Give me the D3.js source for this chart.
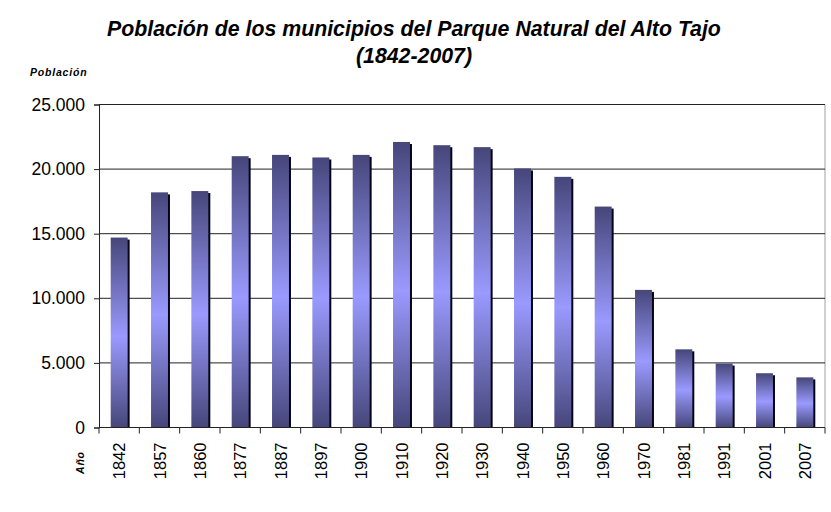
<!DOCTYPE html>
<html>
<head>
<meta charset="utf-8">
<script src="https://cdn.jsdelivr.net/npm/d3@7"></script>
<style>
  body { margin: 0; background: #fff; }
  svg { display: block; font-family: "Liberation Sans", Arial, sans-serif; }
</style>
</head>
<body>
<script>
const width = 831;
const height = 512;

// datos
const years = ["1842", "1857", "1860", "1877", "1887", "1897", "1900", "1910", "1920",
  "1930", "1940", "1950", "1960", "1970", "1981", "1991", "2001", "2007"];
const population = [14700, 18200, 18300, 21000, 21100, 20900, 21100, 22100, 21850,
  21700, 20050, 19400, 17100, 10650, 6050, 4950, 4200, 3880];
const yTicks = [0, 5000, 10000, 15000, 20000, 25000];

const margin = { top: 104.5, right: 6, bottom: 84.5, left: 99 };
const plotW = width - margin.left - margin.right;
const plotH = height - margin.top - margin.bottom;

const svg = d3.select("body").append("svg")
  .attr("width", width)
  .attr("height", height);

// degradado vertical: oscuro arriba y abajo, claro en el centro
const defs = svg.append("defs");
const grad = defs.append("linearGradient")
  .attr("id", "barGrad")
  .attr("x1", 0).attr("y1", 0).attr("x2", 0).attr("y2", 1);
grad.append("stop").attr("offset", "0%").attr("stop-color", "#46467a");
grad.append("stop").attr("offset", "52%").attr("stop-color", "#9a9aff");
grad.append("stop").attr("offset", "100%").attr("stop-color", "#46467a");

const xScale = d3.scaleBand()
  .domain(years)
  .range([0, plotW])
  .paddingInner(0.58)
  .paddingOuter(0.29);

const yScale = d3.scaleLinear()
  .domain([0, 25000])
  .range([plotH, 0]);

const fmt = (d) => d === 0 ? "0" : d3.format(",")(d).replace(/,/g, ".");

const g = svg.append("g")
  .attr("transform", "translate(" + margin.left + "," + margin.top + ")");

// borde derecho del area de trazado
g.append("line")
  .attr("x1", plotW).attr("x2", plotW)
  .attr("y1", 0).attr("y2", plotH)
  .attr("stroke", "#a0a0a0");

// lineas de division
g.selectAll("line.grid")
  .data(yTicks)
  .enter()
  .append("line")
  .attr("class", "grid")
  .attr("x1", 0).attr("x2", plotW)
  .attr("y1", (d) => yScale(d)).attr("y2", (d) => yScale(d))
  .attr("stroke", "#222")
  .attr("stroke-width", 1);

// eje Y
const yAxis = g.append("g")
  .call(d3.axisLeft(yScale).tickValues(yTicks).tickFormat(fmt).tickSize(5).tickPadding(9));
yAxis.select(".domain").attr("stroke", "#222");
yAxis.selectAll(".tick line").attr("stroke", "#222");
yAxis.selectAll(".tick text")
  .style("font-size", "17.5px")
  .attr("fill", "#000");

// sombra de las barras
g.selectAll("rect.shadow")
  .data(population)
  .enter()
  .append("rect")
  .attr("class", "shadow")
  .attr("x", (d, i) => xScale(years[i]) + 2)
  .attr("y", (d) => yScale(d) + 2)
  .attr("width", xScale.bandwidth())
  .attr("height", (d) => plotH - yScale(d) - 2)
  .attr("fill", "#05051a");

// barras
g.selectAll("rect.bar")
  .data(population)
  .enter()
  .append("rect")
  .attr("class", "bar")
  .attr("x", (d, i) => xScale(years[i]))
  .attr("y", (d) => yScale(d))
  .attr("width", xScale.bandwidth())
  .attr("height", (d) => plotH - yScale(d))
  .attr("fill", "url(#barGrad)");

// eje X con marcas entre categorias
const xAxisG = g.append("g")
  .attr("transform", "translate(0," + plotH + ")");
xAxisG.append("line")
  .attr("x1", 0).attr("x2", plotW)
  .attr("stroke", "#222");
const step = xScale.step();
xAxisG.selectAll("line.tick")
  .data(d3.range(years.length + 1))
  .enter()
  .append("line")
  .attr("class", "tick")
  .attr("x1", (d) => d * step).attr("x2", (d) => d * step)
  .attr("y1", 0).attr("y2", 6)
  .attr("stroke", "#222");
xAxisG.selectAll("text")
  .data(years)
  .enter()
  .append("text")
  .attr("transform", (d) => "translate(" + (xScale(d) + xScale.bandwidth() / 2 + 6) + ",15) rotate(-90)")
  .attr("text-anchor", "end")
  .style("font-size", "16.5px")
  .text((d) => d);

// titulo
const title = svg.append("text")
  .attr("x", 414)
  .attr("text-anchor", "middle")
  .style("font-size", "21.3px")
  .style("font-weight", "bold")
  .style("font-style", "italic");
title.append("tspan").attr("x", 414).attr("y", 36).text("Población de los municipios del Parque Natural del Alto Tajo");
title.append("tspan").attr("x", 414).attr("y", 63).text("(1842-2007)");

// titulos de ejes
svg.append("text")
  .attr("x", 30)
  .attr("y", 76)
  .style("font-size", "10.5px")
  .style("font-weight", "bold")
  .style("font-style", "italic")
  .style("letter-spacing", "0.8px")
  .text("Población");

svg.append("text")
  .attr("transform", "translate(84,474) rotate(-90)")
  .style("font-size", "10.5px")
  .style("font-weight", "bold")
  .style("font-style", "italic")
  .style("letter-spacing", "0.8px")
  .text("Año");
</script>
</body>
</html>
